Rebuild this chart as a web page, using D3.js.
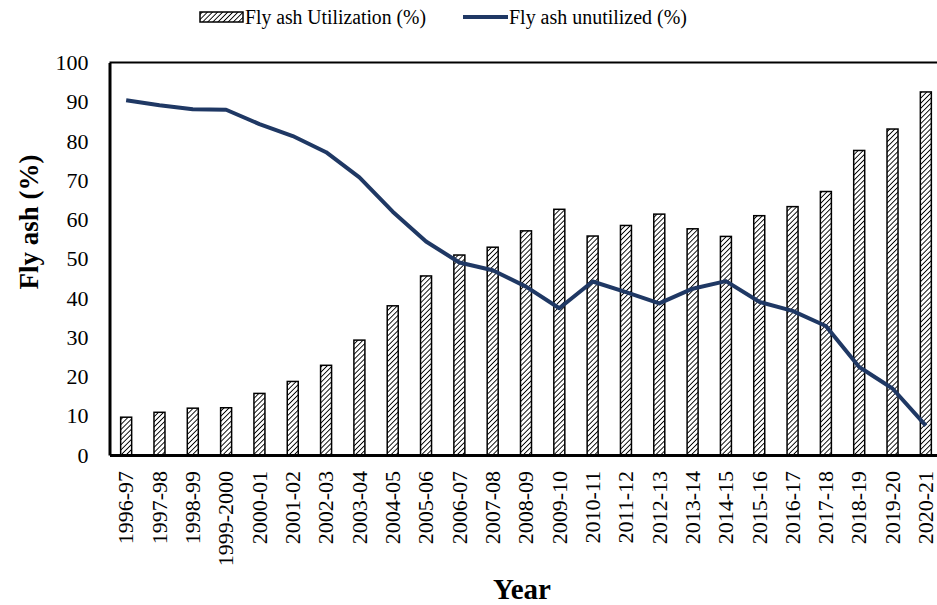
<!DOCTYPE html>
<html>
<head>
<meta charset="utf-8">
<script src="https://cdn.jsdelivr.net/npm/d3@7"></script>
<style>
  body { margin: 0; background: #fff; }
  text { font-family: "Liberation Serif", "Times New Roman", serif; fill: #000; }
</style>
</head>
<body>
<div id="chart"></div>
<script>
const years = ['1996-97', '1997-98', '1998-99', '1999-2000', '2000-01', '2001-02', '2002-03',
	'2003-04', '2004-05', '2005-06', '2006-07', '2007-08', '2008-09', '2009-10', '2010-11',
	'2011-12', '2012-13', '2013-14', '2014-15', '2015-16', '2016-17', '2017-18', '2018-19',
	'2019-20', '2020-21'];
const utilized = [9.63, 10.88, 11.93, 12.04, 15.69, 18.74, 22.85, 29.27, 38.01, 45.62, 50.95,
	52.94, 57.11, 62.60, 55.79, 58.48, 61.37, 57.63, 55.69, 60.97, 63.28, 67.13, 77.59, 83.05, 92.50];
const unutilized = [90.37, 89.12, 88.07, 87.96, 84.31, 81.26, 77.15, 70.73, 61.99, 54.38, 49.05,
	47.06, 42.89, 37.40, 44.21, 41.52, 38.63, 42.37, 44.31, 39.03, 36.72, 32.87, 22.41, 16.95, 7.50];
const yTicks = [0, 10, 20, 30, 40, 50, 60, 70, 80, 90, 100];

let svgWidth = 937
let svgHeight = 605
let padding = { 'left': 109.5, 'right': 942.5, 'top': 62.5, 'bottom': 455 }
const lineColor = '#1f3864';

let svg = d3.select('#chart').append('svg')
	.attr('width', svgWidth)
	.attr('height', svgHeight)

// hatch pattern
let defs = svg.append('defs')
let pat = defs.append('pattern')
	.attr('id', 'hatch')
	.attr('patternUnits', 'userSpaceOnUse')
	.attr('width', 3.6)
	.attr('height', 3.6)
	.attr('patternTransform', 'rotate(45)')
pat.append('rect').attr('width', 3.6).attr('height', 3.6).attr('fill', 'white')
pat.append('line')
	.attr('x1', 0).attr('y1', 0).attr('x2', 0).attr('y2', 3.6)
	.attr('stroke', '#000').attr('stroke-width', 1.8)

let x = d3.scaleBand()
	.domain(years)
	.range([padding.left, padding.right])
let y = d3.scaleLinear()
	.domain([0, 100])
	.range([padding.bottom, padding.top])

// bars
const barW = 11;
svg.append('g')
	.selectAll('rect')
	.data(years)
	.enter()
	.append('rect')
	.attr('x', d => x(d) + x.bandwidth() / 2 - barW / 2)
	.attr('y', (d, i) => y(utilized[i]))
	.attr('width', barW)
	.attr('height', (d, i) => y(0) - y(utilized[i]))
	.attr('fill', 'url(#hatch)')
	.attr('stroke', '#000')
	.attr('stroke-width', 1.5)

// line
let line = d3.line()
	.x((d, i) => x(years[i]) + x.bandwidth() / 2)
	.y(d => y(d))
svg.append('path')
	.datum(unutilized)
	.attr('d', line)
	.attr('fill', 'none')
	.attr('stroke', lineColor)
	.attr('stroke-width', 4)
	.attr('stroke-linejoin', 'round')

// frame
svg.append('line')
	.attr('x1', padding.left).attr('x2', padding.right)
	.attr('y1', y(100)).attr('y2', y(100))
	.attr('stroke', '#000').attr('stroke-width', 2.2)

let axis_y = d3.axisLeft(y).tickValues(yTicks).tickSize(0).tickPadding(21)
let gy = svg.append('g')
	.attr('transform', `translate(${padding.left}, 0)`)
	.call(axis_y)
gy.select('.domain').attr('stroke', '#000').attr('stroke-width', 3)
gy.selectAll('text')
	.style('font-size', '22px')
	.style('font-family', '"Liberation Serif", serif')
	.attr('fill', '#000')

let axis_x = d3.axisBottom(x).tickSize(0).tickPadding(0)
let gx = svg.append('g')
	.attr('transform', `translate(0, ${padding.bottom})`)
	.call(axis_x)
gx.select('.domain').attr('stroke', '#000').attr('stroke-width', 3)
gx.selectAll('text')
	.style('font-size', '22px')
	.style('font-family', '"Liberation Serif", serif')
	.attr('fill', '#000')
	.attr('text-anchor', 'end')
	.attr('dy', '0.33em')
	.attr('transform', 'translate(0, 16) rotate(-90)')
	.attr('x', 0)
	.attr('y', 0)

// axis titles
svg.append('text')
	.attr('x', 522)
	.attr('y', 599)
	.attr('text-anchor', 'middle')
	.attr('font-size', '29px')
	.attr('font-weight', 'bold')
	.text('Year')

svg.append('text')
	.attr('transform', 'translate(38, 222) rotate(-90)')
	.attr('text-anchor', 'middle')
	.attr('font-size', '27px')
	.attr('font-weight', 'bold')
	.text('Fly ash (%)')

// legend
let legend = svg.append('g')
legend.append('rect')
	.attr('x', 200).attr('y', 12)
	.attr('width', 43).attr('height', 10)
	.attr('fill', 'url(#hatch)')
	.attr('stroke', '#000').attr('stroke-width', 1.5)
legend.append('text')
	.attr('x', 245).attr('y', 24)
	.attr('font-size', '20px')
	.attr('textLength', 181)
	.attr('lengthAdjust', 'spacingAndGlyphs')
	.text('Fly ash Utilization (%)')
legend.append('line')
	.attr('x1', 463).attr('x2', 508)
	.attr('y1', 17).attr('y2', 17)
	.attr('stroke', lineColor).attr('stroke-width', 4)
legend.append('text')
	.attr('x', 509).attr('y', 24)
	.attr('font-size', '20px')
	.attr('textLength', 178)
	.attr('lengthAdjust', 'spacingAndGlyphs')
	.text('Fly ash unutilized (%)')
</script>
</body>
</html>
